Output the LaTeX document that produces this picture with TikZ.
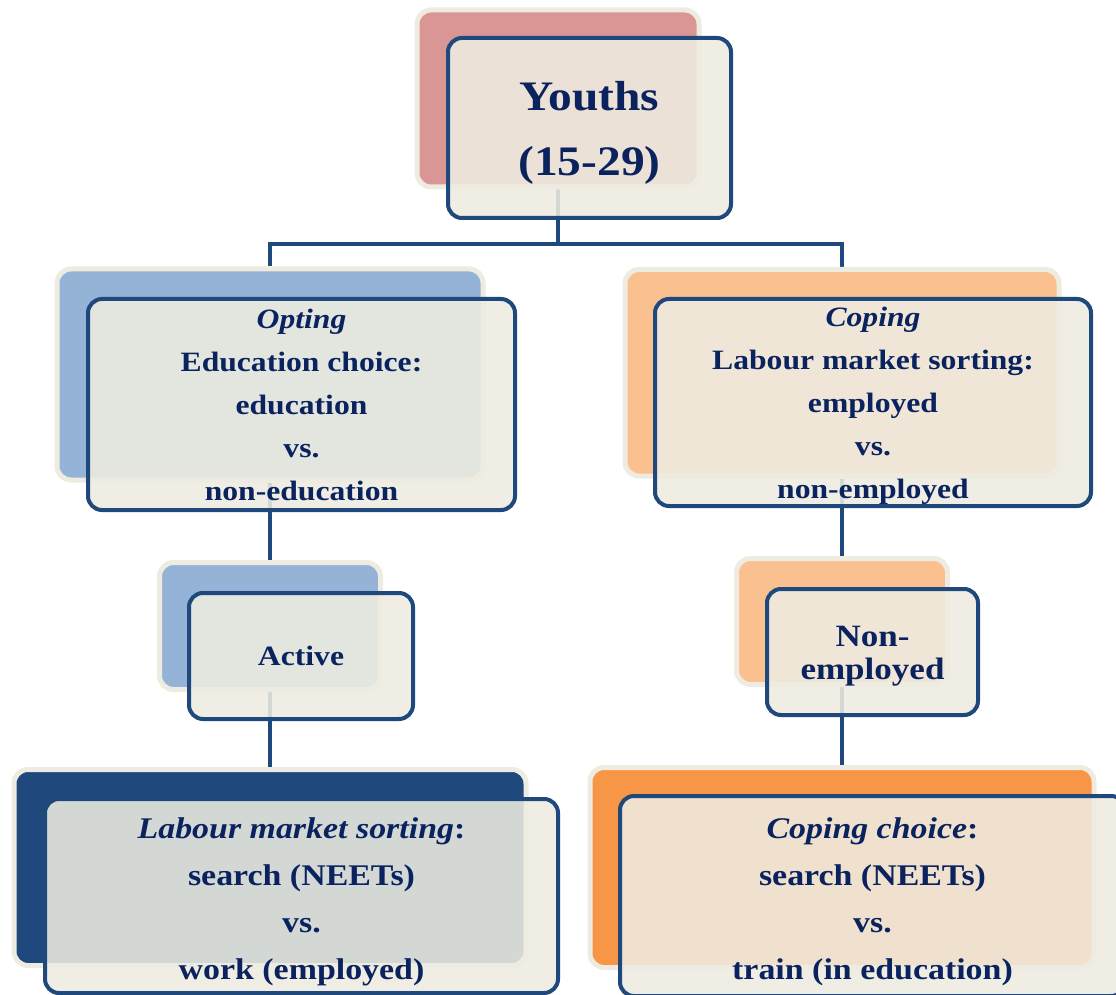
\documentclass[tikz,border=0pt]{standalone}
\usepackage{fontspec}
\setmainfont[FakeStretch=1.13]{Liberation Serif}
\usetikzlibrary{backgrounds}
\definecolor{cream}{HTML}{EEECE1}
\definecolor{edgeblue}{HTML}{1F497D}
\definecolor{txtblue}{RGB}{10,35,95}
\definecolor{pinkc}{HTML}{D99694}
\definecolor{lblue}{HTML}{95B3D7}
\definecolor{lorange}{HTML}{FAC090}
\definecolor{dblue}{HTML}{1F497D}
\definecolor{orangec}{HTML}{F79646}
\newcommand{\fsY}{\fontsize{21}{32.5}\selectfont}
\newcommand{\fsM}{\fontsize{14}{21.5}\selectfont}
\newcommand{\fsN}{\fontsize{15.5}{16.5}\selectfont}
\newcommand{\fsB}{\fontsize{15}{23.5}\selectfont}
\newcommand{\dn}[1]{\rule{0pt}{#1}}
\tikzset{
  x=0.5pt, y=-0.5pt,
  backbox/.style={draw=cream, line width=2.5pt, rounded corners=7pt, inner sep=0pt},
  frontbox/.style={draw=edgeblue, line width=2pt, rounded corners=7pt, inner sep=0pt,
    fill=cream, fill opacity=0.88, text opacity=1, text=txtblue, align=center},
  conn/.style={draw=edgeblue, line width=2.25pt},
}
\begin{document}
\begin{tikzpicture}
\clip (0,0) rectangle (1116,995);
% back boxes
\node[backbox, fill=pinkc, minimum width=141pt, minimum height=88.5pt] (yb) at (558,98.5) {};
\node[backbox, fill=lblue, minimum width=213pt, minimum height=105.5pt] (lb) at (270,374.5) {};
\node[backbox, fill=lorange, minimum width=217pt, minimum height=103.25pt] (rb) at (842,372.75) {};
\node[backbox, fill=lblue, minimum width=110.5pt, minimum height=63.5pt] (ab) at (270,626) {};
\node[backbox, fill=lorange, minimum width=105.5pt, minimum height=63pt] (nb) at (842,621.5) {};
\node[backbox, fill=dblue, minimum width=256pt, minimum height=98pt] (bb) at (270,867.5) {};
\node[backbox, fill=orangec, minimum width=252pt, minimum height=100pt] (cb) at (842,867.5) {};
% connectors
\begin{pgfonlayer}{background}
\fill[white] (0,0) rectangle (1116,995);
\coordinate (hub) at (558,244);
\draw[conn] (yb.south) -- (hub);
\draw[conn] (lb.north) |- (hub) -| (rb.north);
\draw[conn] (lb.south) -- (ab.north);
\draw[conn] (ab.south) -- (bb.north);
\draw[conn] (rb.south) -- (nb.north);
\draw[conn] (nb.south) -- (cb.north);
\end{pgfonlayer}
% front boxes
\node[frontbox, font=\bfseries\fsY, minimum width=141.5pt, minimum height=90pt] (yf) at (589.5,128)
  {\dn{19.7pt}Youths\\(15-29)};
\node[frontbox, font=\bfseries\fsM, minimum width=213.5pt, minimum height=105.5pt] (lf) at (301.5,404.5)
  {\textit{Opting}\\Education choice:\\education\\vs.\\non-education};
\node[frontbox, font=\bfseries\fsM, minimum width=218pt, minimum height=103.5pt] (rf) at (873,402.5)
  {\dn{13.5pt}\textit{Coping}\\Labour market sorting:\\employed\\vs.\\non-employed};
\node[frontbox, font=\bfseries\fsM, minimum width=112pt, minimum height=63pt] (af) at (301,656)
  {Active};
\node[frontbox, font=\bfseries\fsN, minimum width=105.5pt, minimum height=63pt] (nf) at (872.5,652)
  {\dn{14.8pt}Non-\\employed};
\node[frontbox, font=\bfseries\fsB, minimum width=256.5pt, minimum height=97pt] (bf) at (301.5,896)
  {\dn{16.4pt}\textit{Labour market sorting}:\\search (NEETs)\\vs.\\work (employed)};
\node[frontbox, font=\bfseries\fsB, minimum width=252.5pt, minimum height=100pt] (cf) at (872.5,896)
  {\dn{16.4pt}\textit{Coping choice}:\\search (NEETs)\\vs.\\train (in education)};
\end{tikzpicture}
\end{document}
